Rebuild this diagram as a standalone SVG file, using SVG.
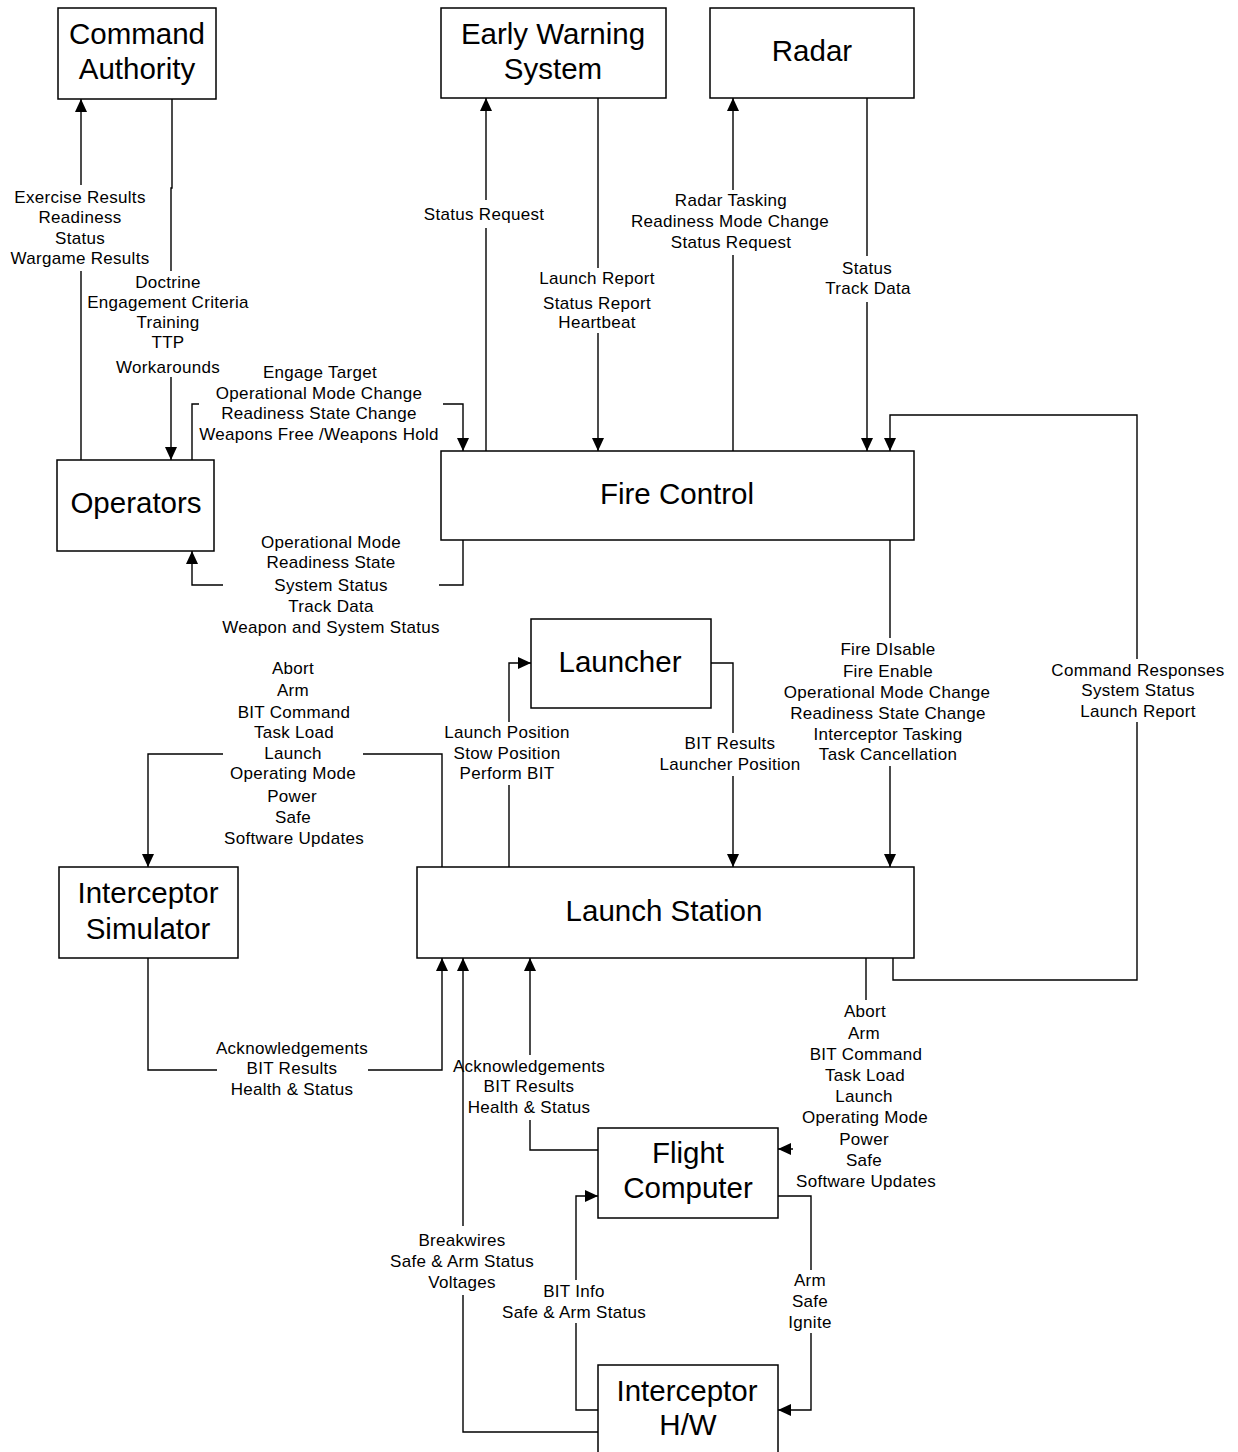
<svg xmlns="http://www.w3.org/2000/svg" width="1238" height="1452" viewBox="0 0 1238 1452">
<style>
.box{fill:#fff;stroke:#000;stroke-width:1.5}
.title{font-family:"Liberation Sans",Arial,sans-serif;font-size:29.5px;text-anchor:middle;fill:#000}
.lbl{font-family:"Liberation Sans",Arial,sans-serif;font-size:17px;letter-spacing:0.3px;text-anchor:middle;fill:#000}
.ln{fill:none;stroke:#000;stroke-width:1.4}
.arr{marker-end:url(#ah)}
</style>
<defs>
<marker id="ah" markerUnits="userSpaceOnUse" markerWidth="13" markerHeight="12" refX="13" refY="6" orient="auto" viewBox="0 0 13 12">
<path d="M0,0 L13,6 L0,12 z" fill="#000"/>
</marker>
</defs>
<rect width="1238" height="1452" fill="#fff"/>

<g id="connectors">
<g id="c-ops-ca">
<path class="ln arr" d="M81,460 V271 M81,185 V99"/>
<text class="lbl"><tspan x="80" y="203">Exercise Results</tspan><tspan x="80" y="223">Readiness</tspan><tspan x="80" y="244">Status</tspan><tspan x="80" y="264">Wargame Results</tspan></text>
</g>
<g id="c-ca-ops">
<path class="ln arr" d="M172,99 V188 H171 V271 M171,377 V460"/>
<text class="lbl"><tspan x="168" y="288">Doctrine</tspan><tspan x="168" y="308">Engagement Criteria</tspan><tspan x="168" y="328">Training</tspan><tspan x="168" y="348">TTP</tspan><tspan x="168" y="373">Workarounds</tspan></text>
</g>
<g id="c-ops-fc">
<path class="ln arr" d="M192,460 V404 H199 M443,404 H463 V451"/>
<text class="lbl"><tspan x="320" y="378">Engage Target</tspan><tspan x="319" y="399">Operational Mode Change</tspan><tspan x="319" y="419">Readiness State Change</tspan><tspan x="319" y="440">Weapons Free /Weapons Hold</tspan></text>
</g>
<g id="c-fc-ops">
<path class="ln arr" d="M463,540 V585 H439 M223,585 H192 V551"/>
<text class="lbl"><tspan x="331" y="548">Operational Mode</tspan><tspan x="331" y="568">Readiness State</tspan><tspan x="331" y="591">System Status</tspan><tspan x="331" y="612">Track Data</tspan><tspan x="331" y="633">Weapon and System Status</tspan></text>
</g>
<g id="c-fc-ews">
<path class="ln arr" d="M486,451 V228 M486,200 V98"/>
<text class="lbl"><tspan x="484" y="220">Status Request</tspan></text>
</g>
<g id="c-ews-fc">
<path class="ln arr" d="M598,98 V268 M598,333 V451"/>
<text class="lbl"><tspan x="597" y="284">Launch Report</tspan><tspan x="597" y="309">Status Report</tspan><tspan x="597" y="328">Heartbeat</tspan></text>
</g>
<g id="c-fc-radar">
<path class="ln arr" d="M733,451 V255 M733,190 V98"/>
<text class="lbl"><tspan x="731" y="206">Radar Tasking</tspan><tspan x="730" y="227">Readiness Mode Change</tspan><tspan x="731" y="248">Status Request</tspan></text>
</g>
<g id="c-radar-fc">
<path class="ln arr" d="M867,98 V256 M867,302 V451"/>
<text class="lbl"><tspan x="867" y="274">Status</tspan><tspan x="868" y="294">Track Data</tspan></text>
</g>
<g id="c-ls-fc">
<path class="ln arr" d="M893,958 V980 H1137 V722 M1137,659 V415 H890 V451"/>
<text class="lbl"><tspan x="1138" y="676">Command Responses</tspan><tspan x="1138" y="696">System Status</tspan><tspan x="1138" y="717">Launch Report</tspan></text>
</g>
<g id="c-fc-ls">
<path class="ln arr" d="M890,540 V638 M890,766 V867"/>
<text class="lbl"><tspan x="888" y="655">Fire DIsable</tspan><tspan x="888" y="677">Fire Enable</tspan><tspan x="887" y="698">Operational Mode Change</tspan><tspan x="888" y="719">Readiness State Change</tspan><tspan x="888" y="740">Interceptor Tasking</tspan><tspan x="888" y="760">Task Cancellation</tspan></text>
</g>
<g id="c-ls-launcher">
<path class="ln arr" d="M509,867 V785 M509,722 V663 H531"/>
<text class="lbl"><tspan x="507" y="738">Launch Position</tspan><tspan x="507" y="759">Stow Position</tspan><tspan x="507" y="779">Perform BIT</tspan></text>
</g>
<g id="c-launcher-ls">
<path class="ln arr" d="M711,663 H733 V733 M733,776 V867"/>
<text class="lbl"><tspan x="730" y="749">BIT Results</tspan><tspan x="730" y="770">Launcher Position</tspan></text>
</g>
<g id="c-ls-sim">
<path class="ln arr" d="M442,867 V754 H363 M223,754 H148 V867"/>
<text class="lbl"><tspan x="293" y="674">Abort</tspan><tspan x="293" y="696">Arm</tspan><tspan x="294" y="718">BIT Command</tspan><tspan x="294" y="738">Task Load</tspan><tspan x="293" y="759">Launch</tspan><tspan x="293" y="779">Operating Mode</tspan><tspan x="292" y="802">Power</tspan><tspan x="293" y="823">Safe</tspan><tspan x="294" y="844">Software Updates</tspan></text>
</g>
<g id="c-sim-ls">
<path class="ln arr" d="M148,958 V1070 H217 M368,1070 H442 V958"/>
<text class="lbl"><tspan x="292" y="1054">Acknowledgements</tspan><tspan x="292" y="1074">BIT Results</tspan><tspan x="292" y="1095">Health &amp; Status</tspan></text>
</g>
<g id="c-hw-ls">
<path class="ln arr" d="M598,1432 H463 V1295 M463,1226 V958"/>
<text class="lbl"><tspan x="462" y="1246">Breakwires</tspan><tspan x="462" y="1267">Safe &amp; Arm Status</tspan><tspan x="462" y="1288">Voltages</tspan></text>
</g>
<g id="c-fcomp-ls">
<path class="ln arr" d="M598,1150 H530 V1120 M530,1055 V958"/>
<text class="lbl"><tspan x="529" y="1072">Acknowledgements</tspan><tspan x="529" y="1092">BIT Results</tspan><tspan x="529" y="1113">Health &amp; Status</tspan></text>
</g>
<g id="c-ls-fcomp">
<path class="ln arr" d="M866,958 V1000 M793,1149 H778"/>
<text class="lbl"><tspan x="865" y="1017">Abort</tspan><tspan x="864" y="1039">Arm</tspan><tspan x="866" y="1060">BIT Command</tspan><tspan x="865" y="1081">Task Load</tspan><tspan x="864" y="1102">Launch</tspan><tspan x="865" y="1123">Operating Mode</tspan><tspan x="864" y="1145">Power</tspan><tspan x="864" y="1166">Safe</tspan><tspan x="866" y="1187">Software Updates</tspan></text>
</g>
<g id="c-fcomp-hw">
<path class="ln arr" d="M778,1196 H811 V1270 M811,1333 V1410 H778"/>
<text class="lbl"><tspan x="810" y="1286">Arm</tspan><tspan x="810" y="1307">Safe</tspan><tspan x="810" y="1328">Ignite</tspan></text>
</g>
<g id="c-hw-fcomp">
<path class="ln arr" d="M598,1410 H576 V1323 M576,1280 V1196 H598"/>
<text class="lbl"><tspan x="574" y="1297">BIT Info</tspan><tspan x="574" y="1318">Safe &amp; Arm Status</tspan></text>
</g>
</g>

<g id="command-authority">
<rect class="box" x="58" y="8" width="158" height="91"/>
<text class="title"><tspan x="137" y="44">Command</tspan><tspan x="137" y="79">Authority</tspan></text>
</g>
<g id="early-warning-system">
<rect class="box" x="441" y="8" width="225" height="90"/>
<text class="title"><tspan x="553" y="44">Early Warning</tspan><tspan x="553" y="79">System</tspan></text>
</g>
<g id="radar">
<rect class="box" x="710" y="8" width="204" height="90"/>
<text class="title" x="812" y="61">Radar</text>
</g>
<g id="operators">
<rect class="box" x="57" y="460" width="157" height="91"/>
<text class="title" x="136" y="513">Operators</text>
</g>
<g id="fire-control">
<rect class="box" x="441" y="451" width="473" height="89"/>
<text class="title" x="677" y="504">Fire Control</text>
</g>
<g id="launcher">
<rect class="box" x="531" y="619" width="180" height="89"/>
<text class="title" x="620" y="672">Launcher</text>
</g>
<g id="launch-station">
<rect class="box" x="417" y="867" width="497" height="91"/>
<text class="title" x="664" y="921">Launch Station</text>
</g>
<g id="interceptor-simulator">
<rect class="box" x="59" y="867" width="179" height="91"/>
<text class="title"><tspan x="148" y="903">Interceptor</tspan><tspan x="148" y="939">Simulator</tspan></text>
</g>
<g id="flight-computer">
<rect class="box" x="598" y="1128" width="180" height="90"/>
<text class="title"><tspan x="688" y="1163">Flight</tspan><tspan x="688" y="1198">Computer</tspan></text>
</g>
<g id="interceptor-hw">
<rect class="box" x="598" y="1365" width="180" height="100"/>
<text class="title"><tspan x="687" y="1401">Interceptor</tspan><tspan x="688" y="1435">H/W</tspan></text>
</g>
</svg>
